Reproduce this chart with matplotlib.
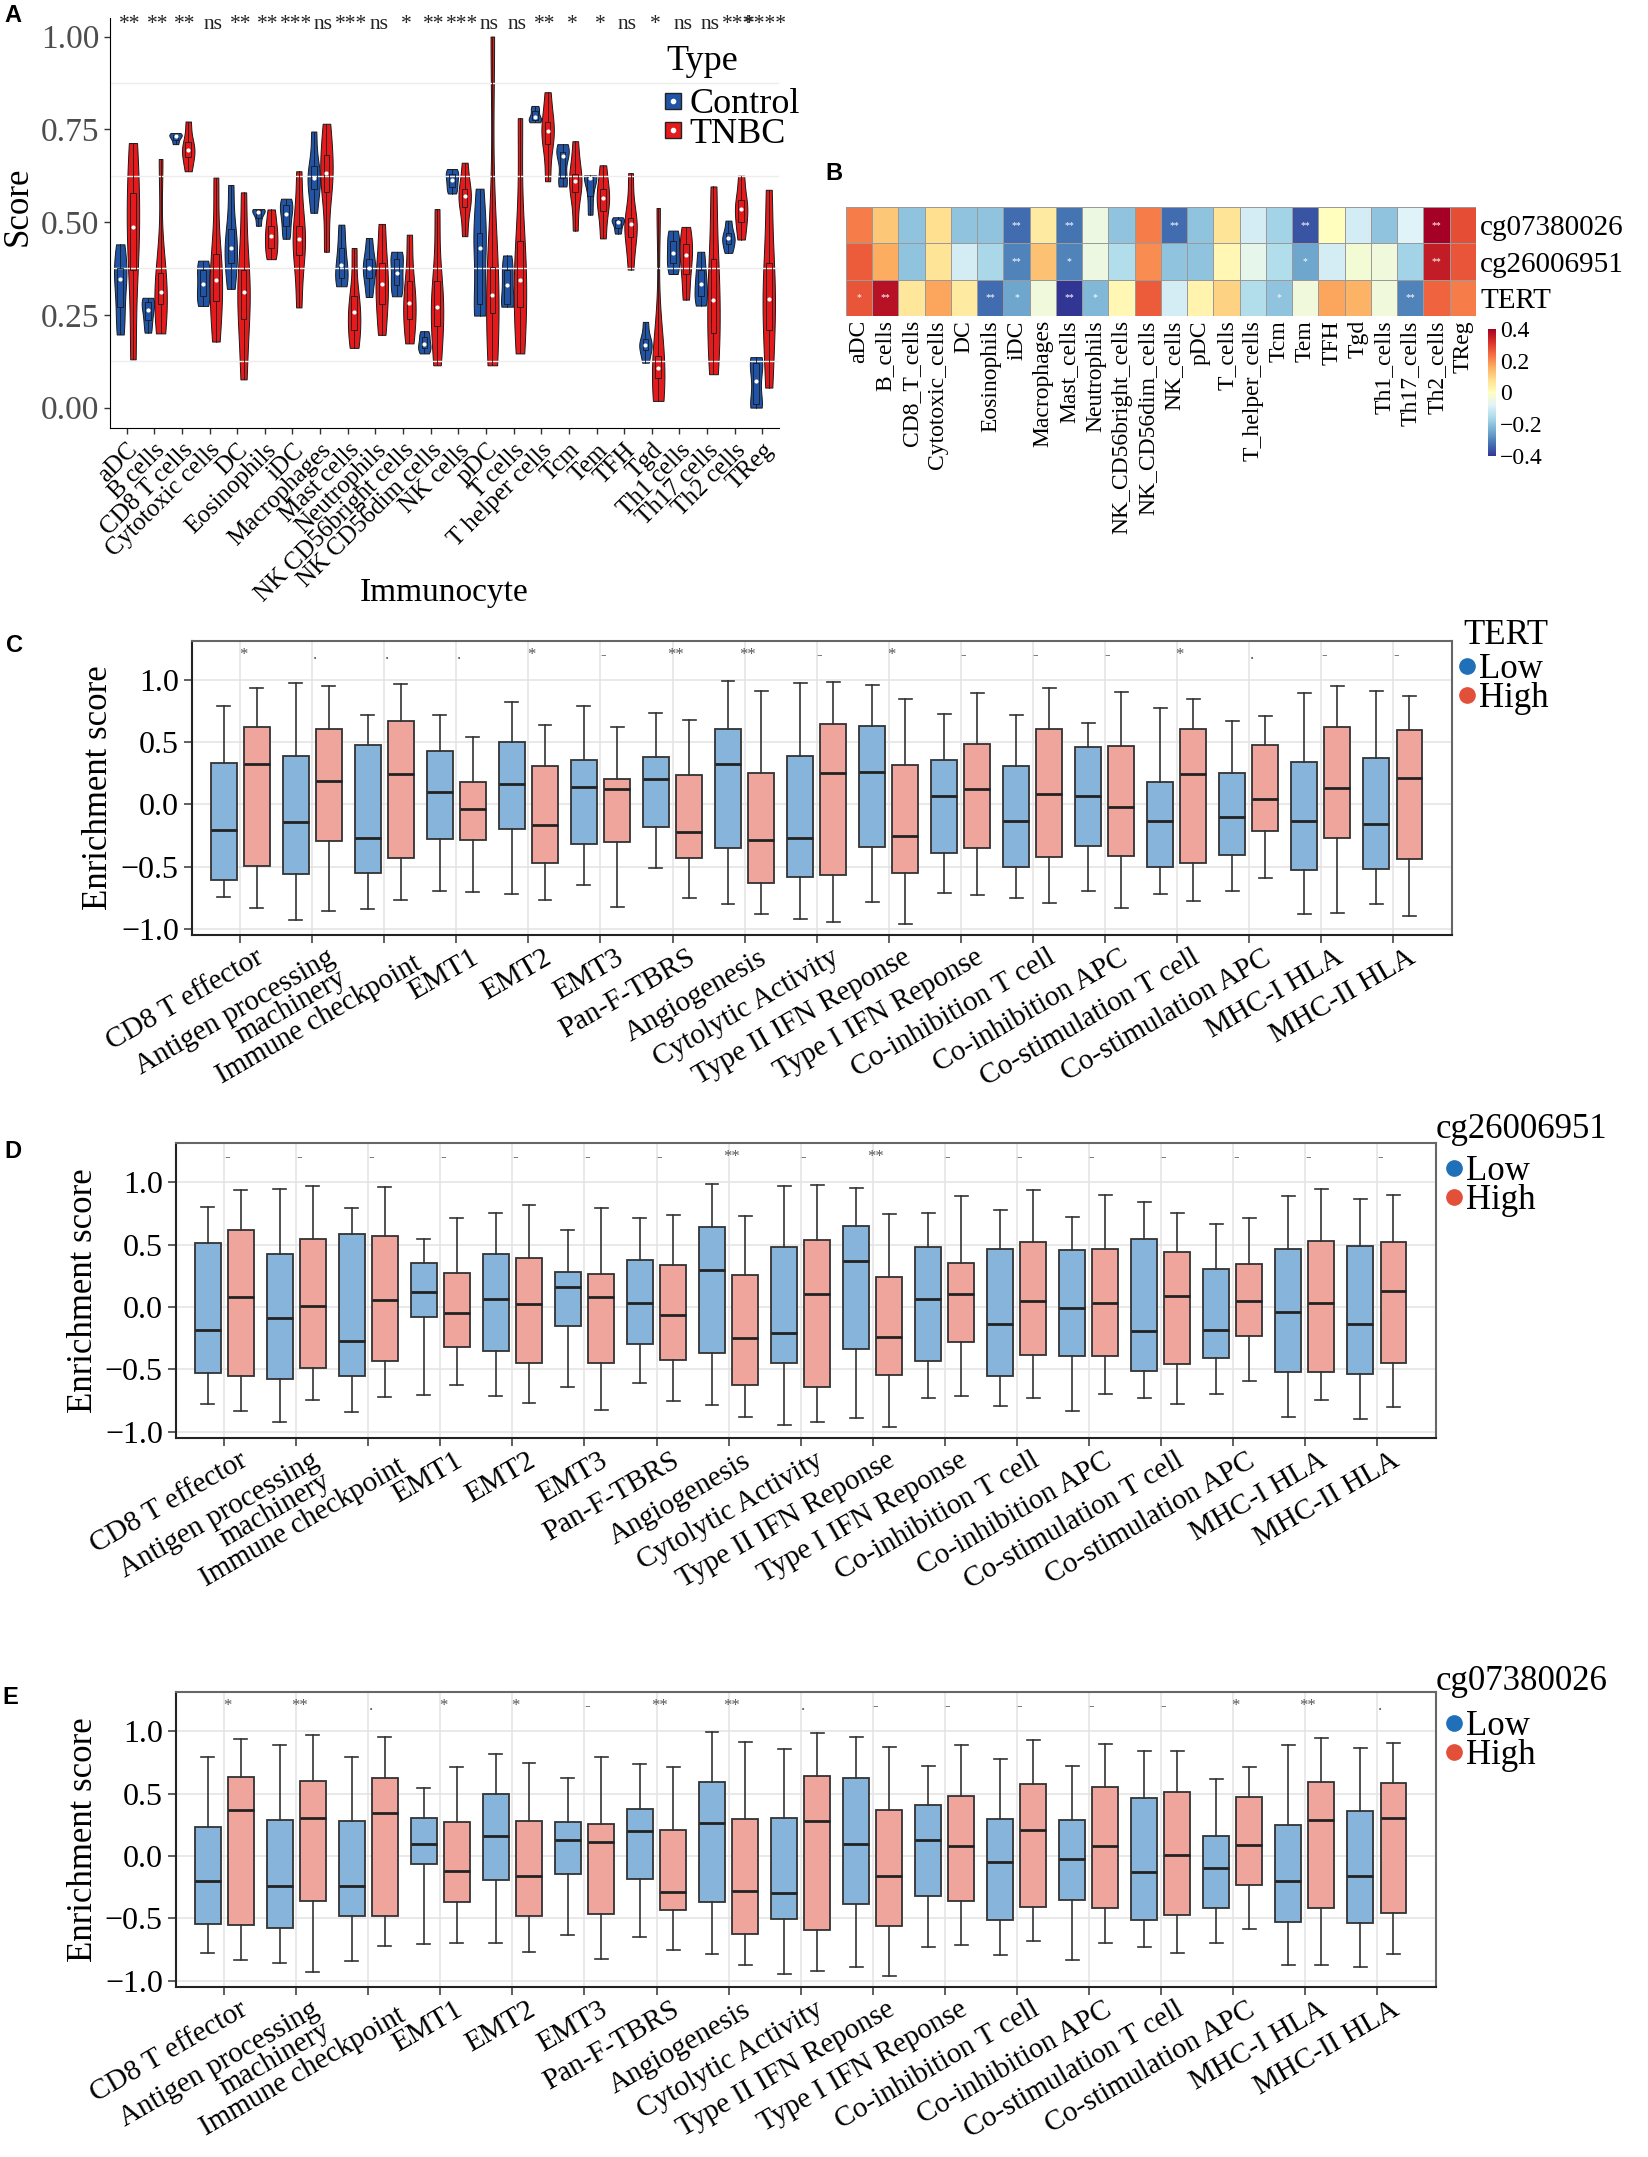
import numpy as np
import matplotlib
matplotlib.use("Agg")
import matplotlib.pyplot as plt
import matplotlib.transforms as mtransforms
from matplotlib.lines import Line2D

W, H = 1649, 2157
plt.rcParams['font.family'] = ['Liberation Serif', 'DejaVu Serif']
plt.rcParams['axes.unicode_minus'] = True

# ---------------- panel A data: (min, q1, median, q3, max) ----------------
cells = ["aDC", "B cells", "CD8 T cells", "Cytotoxic cells", "DC", "Eosinophils", "iDC",
         "Macrophages", "Mast cells", "Neutrophils", "NK CD56bright cells", "NK CD56dim cells",
         "NK cells", "pDC", "T cells", "T helper cells", "Tcm", "Tem", "TFH", "Tgd",
         "Th1 cells", "Th17 cells", "Th2 cells", "TReg"]

control = [
    [0.197, 0.27, 0.347, 0.375, 0.44],
    [0.202, 0.235, 0.262, 0.285, 0.296],
    [0.71, 0.722, 0.731, 0.735, 0.74],
    [0.274, 0.30, 0.334, 0.37, 0.396],
    [0.32, 0.39, 0.43, 0.48, 0.60],
    [0.49, 0.51, 0.527, 0.532, 0.535],
    [0.455, 0.49, 0.523, 0.545, 0.563],
    [0.525, 0.59, 0.62, 0.65, 0.744],
    [0.327, 0.35, 0.383, 0.43, 0.493],
    [0.298, 0.35, 0.377, 0.40, 0.457],
    [0.30, 0.33, 0.363, 0.40, 0.42],
    [0.146, 0.16, 0.172, 0.19, 0.206],
    [0.577, 0.595, 0.614, 0.63, 0.643],
    [0.248, 0.28, 0.43, 0.47, 0.59],
    [0.272, 0.28, 0.331, 0.37, 0.41],
    [0.769, 0.775, 0.783, 0.80, 0.813],
    [0.596, 0.62, 0.677, 0.69, 0.71],
    [0.52, 0.57, 0.62, 0.622, 0.626],
    [0.469, 0.485, 0.50, 0.505, 0.513],
    [0.121, 0.155, 0.169, 0.185, 0.231],
    [0.36, 0.39, 0.417, 0.45, 0.477],
    [0.275, 0.30, 0.334, 0.37, 0.42],
    [0.417, 0.44, 0.456, 0.47, 0.504],
    [0.0, 0.01, 0.072, 0.12, 0.136],
]
tnbc = [
    [0.13, 0.372, 0.486, 0.578, 0.713],
    [0.20, 0.278, 0.311, 0.363, 0.67],
    [0.637, 0.675, 0.695, 0.715, 0.771],
    [0.178, 0.287, 0.343, 0.413, 0.62],
    [0.076, 0.238, 0.312, 0.372, 0.58],
    [0.40, 0.43, 0.462, 0.49, 0.534],
    [0.27, 0.41, 0.455, 0.49, 0.637],
    [0.42, 0.58, 0.632, 0.68, 0.765],
    [0.161, 0.21, 0.257, 0.30, 0.43],
    [0.196, 0.28, 0.334, 0.39, 0.495],
    [0.173, 0.24, 0.282, 0.34, 0.466],
    [0.114, 0.22, 0.272, 0.34, 0.535],
    [0.462, 0.54, 0.57, 0.59, 0.66],
    [0.114, 0.255, 0.304, 0.38, 1.0],
    [0.146, 0.27, 0.343, 0.45, 0.78],
    [0.61, 0.71, 0.746, 0.77, 0.85],
    [0.477, 0.58, 0.612, 0.63, 0.718],
    [0.456, 0.53, 0.565, 0.59, 0.653],
    [0.372, 0.46, 0.495, 0.51, 0.632],
    [0.018, 0.08, 0.108, 0.14, 0.538],
    [0.291, 0.36, 0.41, 0.44, 0.487],
    [0.09, 0.20, 0.291, 0.40, 0.596],
    [0.453, 0.50, 0.536, 0.56, 0.625],
    [0.054, 0.21, 0.293, 0.39, 0.587],
]
sig_a = ["**", "**", "**", "ns", "**", "**", "***", "ns", "***", "ns", "*", "**", "***",
         "ns", "ns", "**", "*", "*", "ns", "*", "ns", "ns", "***", "****"]

# ---------------- panel B data ----------------
heat_cols = ["aDC", "B_cells", "CD8_T_cells", "Cytotoxic_cells", "DC", "Eosinophils", "iDC",
             "Macrophages", "Mast_cells", "Neutrophils", "NK_CD56bright_cells",
             "NK_CD56dim_cells", "NK_cells", "pDC", "T_cells", "T_helper_cells", "Tcm", "Tem",
             "TFH", "Tgd", "Th1_cells", "Th17_cells", "Th2_cells", "TReg"]
heat_rows = ["cg07380026", "cg26006951", "TERT"]
cor_cg07 = [0.22, 0.12, -0.20, 0.08, -0.20, -0.20, -0.33, 0.05, -0.32, -0.05, -0.20, 0.22,
            -0.33, -0.20, 0.07, -0.10, -0.17, -0.36, 0.00, -0.10, -0.20, -0.08, 0.40, 0.28]
cor_cg26 = [0.26, 0.16, -0.20, 0.07, -0.10, -0.16, -0.30, 0.13, -0.30, -0.05, -0.15, 0.20,
            -0.20, -0.20, 0.02, -0.06, -0.15, -0.25, -0.10, -0.03, -0.04, -0.17, 0.35, 0.27]
cor_tert = [0.27, 0.37, 0.06, 0.17, 0.05, -0.33, -0.25, -0.04, -0.40, -0.22, 0.02, 0.26,
            -0.10, 0.03, 0.10, -0.15, -0.20, -0.04, 0.17, 0.15, -0.04, -0.30, 0.25, 0.22]
star_cg07 = ["", "", "", "", "", "", "**", "", "**", "", "", "", "**", "", "", "", "", "**",
             "", "", "", "", "**", ""]
star_cg26 = ["", "", "", "", "", "", "**", "", "*", "", "", "", "", "", "", "", "", "*",
             "", "", "", "", "**", ""]
star_tert = ["*", "**", "", "", "", "**", "*", "", "**", "*", "", "", "", "", "", "", "*", "",
             "", "", "", "**", "", ""]

# ---------------- panels C-E data: (whisker low, q1, median, q3, whisker high) ----------------
signatures = ["CD8 T effector", "Antigen processing\nmachinery", "Immune checkpoint", "EMT1",
              "EMT2", "EMT3", "Pan-F-TBRS", "Angiogenesis", "Cytolytic Activity",
              "Type II IFN Reponse", "Type I IFN Reponse", "Co-inhibition T cell",
              "Co-inhibition APC", "Co-stimulation T cell", "Co-stimulation APC",
              "MHC-I HLA", "MHC-II HLA"]

tert_low = [
    [-0.741, -0.604, -0.209, 0.333, 0.795], [-0.926, -0.561, -0.137, 0.392, 0.977],
    [-0.843, -0.550, -0.268, 0.480, 0.717], [-0.695, -0.279, 0.097, 0.432, 0.720],
    [-0.719, -0.196, 0.164, 0.502, 0.827], [-0.650, -0.319, 0.137, 0.354, 0.792],
    [-0.513, -0.185, 0.204, 0.384, 0.738], [-0.800, -0.352, 0.322, 0.607, 0.993],
    [-0.921, -0.583, -0.271, 0.387, 0.977], [-0.787, -0.344, 0.260, 0.631, 0.964],
    [-0.709, -0.389, 0.067, 0.360, 0.725], [-0.752, -0.507, -0.134, 0.311, 0.720],
    [-0.693, -0.333, 0.070, 0.462, 0.658], [-0.717, -0.507, -0.132, 0.180, 0.779],
    [-0.693, -0.405, -0.102, 0.252, 0.671], [-0.878, -0.526, -0.129, 0.344, 0.899],
    [-0.797, -0.521, -0.158, 0.370, 0.910]]
tert_high = [
    [-0.835, -0.491, 0.328, 0.623, 0.940], [-0.854, -0.290, 0.185, 0.604, 0.953],
    [-0.770, -0.430, 0.242, 0.674, 0.966], [-0.706, -0.285, -0.038, 0.177, 0.542],
    [-0.765, -0.472, -0.164, 0.309, 0.639], [-0.821, -0.301, 0.126, 0.204, 0.626],
    [-0.752, -0.430, -0.223, 0.234, 0.677], [-0.878, -0.628, -0.282, 0.250, 0.913],
    [-0.948, -0.566, 0.252, 0.644, 0.985], [-0.961, -0.553, -0.255, 0.317, 0.851],
    [-0.728, -0.349, 0.123, 0.483, 0.894], [-0.789, -0.424, 0.086, 0.609, 0.940],
    [-0.832, -0.416, -0.024, 0.472, 0.905], [-0.776, -0.470, 0.247, 0.609, 0.851],
    [-0.588, -0.212, 0.048, 0.475, 0.714], [-0.870, -0.268, 0.132, 0.623, 0.953],
    [-0.894, -0.438, 0.209, 0.596, 0.870]]
sig_tert = ["*", ".", ".", ".", "*", "-", "**", "**", "-", "*", "-", "-", "-", "*", ".", "-", "-"]

cg26_low = [
    [-0.776, -0.527, -0.185, 0.514, 0.800], [-0.924, -0.578, -0.088, 0.426, 0.945],
    [-0.843, -0.549, -0.270, 0.586, 0.795], [-0.707, -0.080, 0.118, 0.351, 0.543],
    [-0.715, -0.351, 0.064, 0.426, 0.750], [-0.645, -0.150, 0.158, 0.281, 0.621],
    [-0.610, -0.297, 0.035, 0.378, 0.715], [-0.784, -0.369, 0.295, 0.645, 0.988],
    [-0.945, -0.447, -0.209, 0.479, 0.972], [-0.892, -0.337, 0.367, 0.648, 0.958],
    [-0.726, -0.431, 0.062, 0.485, 0.750], [-0.790, -0.549, -0.134, 0.469, 0.776],
    [-0.835, -0.394, -0.005, 0.455, 0.723], [-0.728, -0.509, -0.190, 0.546, 0.846],
    [-0.696, -0.407, -0.185, 0.303, 0.664], [-0.878, -0.519, -0.037, 0.463, 0.894],
    [-0.894, -0.535, -0.139, 0.493, 0.865]]
cg26_high = [
    [-0.833, -0.554, 0.083, 0.616, 0.940], [-0.747, -0.487, 0.008, 0.549, 0.972],
    [-0.723, -0.431, 0.056, 0.568, 0.961], [-0.624, -0.319, -0.051, 0.276, 0.715],
    [-0.768, -0.452, 0.024, 0.394, 0.819], [-0.825, -0.450, 0.080, 0.268, 0.790],
    [-0.755, -0.428, -0.064, 0.337, 0.736], [-0.878, -0.627, -0.249, 0.260, 0.728],
    [-0.924, -0.643, 0.104, 0.535, 0.977], [-0.958, -0.546, -0.238, 0.241, 0.742],
    [-0.710, -0.281, 0.107, 0.356, 0.889], [-0.726, -0.383, 0.048, 0.519, 0.937],
    [-0.699, -0.396, 0.035, 0.469, 0.897], [-0.779, -0.455, 0.086, 0.439, 0.755],
    [-0.592, -0.230, 0.051, 0.348, 0.710], [-0.742, -0.517, 0.035, 0.527, 0.950],
    [-0.798, -0.447, 0.129, 0.522, 0.902]]
sig_cg26 = ["-", "-", "-", "-", "-", "-", "-", "**", "-", "**", "-", "-", "-", "-", "-", "-", "-"]

cg07_low = [
    [-0.776, -0.541, -0.203, 0.236, 0.793], [-0.854, -0.578, -0.244, 0.289, 0.889],
    [-0.843, -0.477, -0.238, 0.278, 0.793], [-0.707, -0.064, 0.096, 0.308, 0.543],
    [-0.699, -0.195, 0.161, 0.501, 0.819], [-0.637, -0.147, 0.131, 0.273, 0.627],
    [-0.648, -0.187, 0.201, 0.380, 0.736], [-0.782, -0.367, 0.268, 0.597, 0.993],
    [-0.948, -0.506, -0.295, 0.305, 0.862], [-0.889, -0.386, 0.094, 0.627, 0.958],
    [-0.728, -0.321, 0.131, 0.407, 0.720], [-0.790, -0.511, -0.051, 0.300, 0.776],
    [-0.835, -0.356, -0.027, 0.292, 0.723], [-0.728, -0.509, -0.129, 0.463, 0.846],
    [-0.696, -0.420, -0.094, 0.163, 0.616], [-0.870, -0.530, -0.203, 0.246, 0.889],
    [-0.892, -0.535, -0.161, 0.364, 0.865]]
cg07_high = [
    [-0.833, -0.552, 0.369, 0.632, 0.937], [-0.926, -0.359, 0.308, 0.602, 0.972],
    [-0.723, -0.479, 0.348, 0.629, 0.958], [-0.699, -0.369, -0.123, 0.273, 0.715],
    [-0.768, -0.482, -0.163, 0.284, 0.747], [-0.825, -0.463, 0.110, 0.257, 0.793],
    [-0.752, -0.431, -0.289, 0.212, 0.712], [-0.875, -0.629, -0.284, 0.295, 0.913],
    [-0.918, -0.592, 0.281, 0.643, 0.983], [-0.958, -0.562, -0.163, 0.367, 0.873],
    [-0.712, -0.364, 0.083, 0.479, 0.889], [-0.685, -0.407, 0.206, 0.576, 0.934],
    [-0.696, -0.415, 0.078, 0.552, 0.897], [-0.779, -0.469, 0.011, 0.511, 0.838],
    [-0.589, -0.236, 0.091, 0.474, 0.710], [-0.875, -0.420, 0.292, 0.592, 0.950],
    [-0.782, -0.460, 0.305, 0.589, 0.905]]
sig_cg07 = ["*", "**", ".", "*", "*", "-", "**", "**", ".", "-", "-", "-", "-", "-", "*", "**", "."]

CONTROL_COL = "#2254A6"
TNBC_COL = "#E41A1C"
LOW_FILL = "#86B4DA"
HIGH_FILL = "#EFA49C"
LOW_DOT = "#1F70B8"
HIGH_DOT = "#E2503A"

fig = plt.figure(figsize=(W / 100, H / 100), dpi=100)


def px_axes(left, top, right, bottom):
    return fig.add_axes([left / W, 1 - bottom / H, (right - left) / W, (bottom - top) / H])


def fig_pt(x, y):
    return (x / W, 1 - y / H)


def panel_letter(x, y, s):
    fig.text(x / W, 1 - y / H, s, fontsize=17, fontweight='bold', family='Liberation Sans',
             ha='left', va='center')


def side_legend(ax, handles, labels, title, title_xy, left, first_y, fs, spacing, hlen, pad):
    fig.text(title_xy[0] / W, 1 - title_xy[1] / H, title, fontsize=fs, ha='left', va='center')
    ax.legend(handles, labels, loc='upper left', bbox_to_anchor=fig_pt(left, first_y - 16),
              bbox_transform=fig.transFigure, frameon=False, fontsize=fs,
              handlelength=hlen, handletextpad=pad, labelspacing=spacing,
              borderpad=0, borderaxespad=0)


# ================= Panel A: violins =================
axA = px_axes(110, 18, 779, 428)
xa = np.arange(len(cells))
for stats, off, col in [(control, -0.23, CONTROL_COL), (tnbc, 0.23, TNBC_COL)]:
    parts = axA.violinplot([np.array(s) for s in stats], positions=xa + off, widths=0.45,
                           showextrema=False, bw_method=0.55)
    for b in parts['bodies']:
        b.set_facecolor(col)
        b.set_edgecolor('#1a1a1a')
        b.set_linewidth(0.7)
        b.set_alpha(1)
    bstats = [dict(whislo=s[0], q1=s[1], med=s[2], q3=s[3], whishi=s[4], fliers=[]) for s in stats]
    axA.bxp(bstats, positions=xa + off, widths=0.2, showcaps=False, patch_artist=True,
            manage_ticks=False,
            boxprops=dict(facecolor='none', edgecolor='#1a1a1a', linewidth=0.6),
            whiskerprops=dict(color='#1a1a1a', linewidth=0.6),
            medianprops=dict(linewidth=0))
    axA.scatter(xa + off, [s[2] for s in stats], s=9, color='white', zorder=5, linewidths=0)

for i, s in enumerate(sig_a):
    axA.text(i + 0.12, 1.032, s, ha='center', va='center', fontsize=15.5, color='#222222')

axA.set_xlim(-0.6, 23.6)
axA.set_ylim(-0.055, 1.05)
axA.set_yticks([0, 0.25, 0.5, 0.75, 1.0])
axA.set_yticklabels(["0.00", "0.25", "0.50", "0.75", "1.00"], fontsize=24, color='#4D4D4D')
axA.set_yticks([0.125, 0.375, 0.625, 0.875], minor=True)
axA.grid(True, which='minor', axis='y', color='#EDEDED', linewidth=1)
axA.tick_params(axis='y', which='minor', length=0)
axA.set_xticks(xa)
axA.set_xticklabels(cells, rotation=45, ha='right', va='top', rotation_mode='anchor',
                    fontsize=18)
axA.tick_params(axis='both', which='major', length=4, width=1, color='#333333')
axA.tick_params(axis='x', pad=4)
axA.spines['top'].set_visible(False)
axA.spines['right'].set_visible(False)
axA.set_xlabel("Immunocyte", fontsize=24)
axA.xaxis.set_label_coords(0.5, -0.365)
axA.set_ylabel("Score", fontsize=25)
axA.yaxis.set_label_coords(-0.113, 0.54)

leg_handles = [(Line2D([], [], marker='s', ls='', markersize=12, markerfacecolor=CONTROL_COL,
                       markeredgecolor='#222222'),
                Line2D([], [], marker='o', ls='', markersize=3, color='white')),
               (Line2D([], [], marker='s', ls='', markersize=12, markerfacecolor=TNBC_COL,
                       markeredgecolor='#222222'),
                Line2D([], [], marker='o', ls='', markersize=3, color='white'))]
side_legend(axA, leg_handles, ["Control", "TNBC"], "Type", (666, 62), 662, 104, 26, -0.1,
            0.6, 0.15)

# ================= Panel B: heatmap =================
axB = px_axes(846, 207, 1476, 316)
cor = np.array([cor_cg07, cor_cg26, cor_tert])
stars = [star_cg07, star_cg26, star_tert]
mesh = axB.pcolormesh(cor, cmap='RdYlBu_r', vmin=-0.4, vmax=0.4, edgecolors='#9a9a9a',
                      linewidth=0.6)
for r in range(3):
    for c in range(len(heat_cols)):
        if stars[r][c]:
            axB.text(c + 0.5, r + 0.5, stars[r][c], ha='center', va='center', fontsize=7,
                     color='white')
axB.set_xlim(0, len(heat_cols))
axB.set_ylim(3, 0)
axB.set_xticks(np.arange(len(heat_cols)) + 0.5)
axB.set_xticklabels(heat_cols, rotation=90, fontsize=17, va='top', ha='center')
axB.set_yticks(np.arange(3) + 0.5)
axB.set_yticklabels(heat_rows, fontsize=21)
axB.yaxis.tick_right()
axB.tick_params(length=0, pad=3)
for sp in axB.spines.values():
    sp.set_visible(False)

cax = px_axes(1488, 329, 1496, 456)
cb = fig.colorbar(mesh, cax=cax, ticks=[-0.4, -0.2, 0, 0.2, 0.4])
cb.ax.set_yticklabels(["\u22120.4", "\u22120.2", "0", "0.2", "0.4"], fontsize=17)
cb.outline.set_visible(False)
cb.ax.tick_params(length=0, pad=3)

# ================= Panels C-E: boxplots =================


def draw_signature(box, low, high, sig, title, title_xy, leg_left, low_y, ylab_x):
    ax = px_axes(*box)
    xs = np.arange(len(signatures))
    for rows, off, fc in [(low, -0.23, LOW_FILL), (high, 0.23, HIGH_FILL)]:
        st = [dict(whislo=r[0], q1=r[1], med=r[2], q3=r[3], whishi=r[4], fliers=[]) for r in rows]
        ax.bxp(st, positions=xs + off, widths=0.36, capwidths=0.18, patch_artist=True,
               manage_ticks=False,
               boxprops=dict(facecolor=fc, edgecolor='#333333', linewidth=1.3),
               whiskerprops=dict(color='#333333', linewidth=1.2),
               capprops=dict(color='#333333', linewidth=1.2),
               medianprops=dict(color='#222222', linewidth=2.0))
    for i, s in enumerate(sig):
        ax.text(i + 0.04, 1.2, s, ha='center', va='center', fontsize=12, color='#555555')
    ax.set_xlim(-0.67, 16.82)
    ax.set_ylim(-1.05, 1.315)
    ax.set_yticks([-1.0, -0.5, 0.0, 0.5, 1.0])
    ax.set_yticklabels(["\u22121.0", "\u22120.5", "0.0", "0.5", "1.0"], fontsize=23)
    ax.set_xticks(xs)
    ax.set_xticklabels(signatures, rotation=30, ha='right', va='top', rotation_mode='anchor',
                       fontsize=21, linespacing=0.9)
    ax.grid(True, color='#E3E3E3', linewidth=1.1)
    ax.set_axisbelow(True)
    ax.tick_params(length=6, width=1.2, color='#444444')
    ax.tick_params(axis='x', pad=1)
    # the reference sets its labels a little to the right of the ticks
    for k, lab in enumerate(ax.get_xticklabels()):
        dx, dy = (28, -6) if k == 2 else (14, 0)
        lab.set_transform(lab.get_transform() +
                          mtransforms.ScaledTranslation(dx / 100, dy / 100, fig.dpi_scale_trans))
    for sp in ax.spines.values():
        sp.set_color('#666666')
        sp.set_linewidth(1.5)
    ax.spines['left'].set_color('#222222')
    ax.spines['bottom'].set_color('#222222')
    ax.set_ylabel("Enrichment score", fontsize=25)
    ax.yaxis.set_label_coords(ylab_x, 0.5)
    handles = [Line2D([], [], marker='o', ls='', markersize=11, color=LOW_DOT),
               Line2D([], [], marker='o', ls='', markersize=11, color=HIGH_DOT)]
    side_legend(ax, handles, ["Low", "High"], title, title_xy, leg_left, low_y, 25, -0.11,
                0.5, 0.1)
    return ax


draw_signature((192, 641, 1452, 935), tert_low, tert_high, sig_tert, "TERT",
               (1463, 635), 1458, 669, -0.061)
draw_signature((176, 1143, 1436, 1438), cg26_low, cg26_high, sig_cg26, "cg26006951",
               (1436, 1129), 1445, 1171, -0.060)
draw_signature((176, 1692, 1436, 1987), cg07_low, cg07_high, sig_cg07, "cg07380026",
               (1436, 1682), 1445, 1726, -0.060)

panel_letter(4, 15, "A")
panel_letter(825, 174, "B")
panel_letter(6, 645, "C")
panel_letter(4, 1152, "D")
panel_letter(2, 1697, "E")

fig.savefig("out.png", dpi=100)
